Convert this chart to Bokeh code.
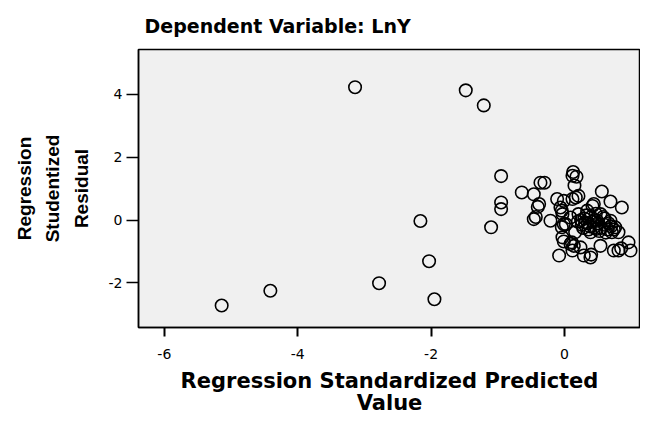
from bokeh.plotting import figure
from bokeh.models import FixedTicker, Range1d
from bokeh.embed import file_html
from bokeh.resources import INLINE

# Outlying observations
out_x = [-5.14, -4.41, -3.14, -2.78, -2.16, -2.03, -1.95, -1.48, -1.21, -1.10, -0.95, -0.95, -0.95]
out_y = [-2.72, -2.25, 4.23, -2.01, -0.03, -1.31, -2.52, 4.13, 3.65, -0.23, 1.40, 0.56, 0.35]

# Main cluster
clu_x = [-0.64, -0.46, -0.36, -0.30, -0.38, -0.40, -0.46, -0.43, -0.11, -0.06, -0.03, -0.21, -0.01,
         0.12, 0.13, 0.18, 0.15, 0.12, 0.21, 0.17, 0.56, 0.69, 0.86, 0.44, 0.42, -0.01, -0.04,
         0.09, 0.21, 0.34, 0.54, 0.69, 0.76, 0.81, 0.71, 0.44, 0.31, 0.49, 0.60, 0.39, 0.16,
         0.02, -0.04, -0.03, -0.01, 0.09, 0.11, 0.14, 0.24, -0.08, 0.12, 0.29, 0.39, 0.40, 0.54,
         0.74, 0.81, 0.85, 0.96, 0.99, 0.30, 0.35, 0.40, 0.45, 0.50, 0.55, 0.60, 0.65, 0.38,
         0.28, 0.25, 0.33, 0.47, 0.52, 0.62, 0.70, 0.58, 0.36, 0.42, 0.26, 0.66, 0.74, 0.48, 0.20]
clu_y = [0.88, 0.82, 1.19, 1.19, 0.51, 0.42, 0.03, 0.10, 0.67, 0.40, 0.19, -0.02, -0.13,
         1.41, 1.53, 1.38, 1.10, 0.67, 0.77, 0.72, 0.91, 0.59, 0.40, 0.51, 0.45, 0.61, 0.30,
         0.08, 0.19, 0.30, 0.19, -0.02, -0.23, -0.39, -0.39, -0.23, -0.08, -0.02, -0.15, -0.39, -0.39,
         -0.13, -0.23, -0.55, -0.68, -0.76, -0.71, -0.82, -0.87, -1.13, -0.97, -1.13, -1.19, -1.10, -0.82,
         -0.97, -0.97, -0.90, -0.71, -0.97, 0.05, -0.10, 0.10, 0.00, -0.10, -0.25, 0.05, -0.30, -0.20,
         -0.25, 0.00, 0.15, 0.20, -0.35, -0.40, -0.20, 0.10, -0.30, -0.05, -0.15, -0.10, -0.30, -0.28, -0.05]

x_vals = out_x + clu_x
y_vals = out_y + clu_y

x_ticks = [-6, -4, -2, 0]
y_ticks = [-2, 0, 2, 4]

title_text = "Dependent Variable: LnY"
x_label = "Regression Standardized Predicted\nValue"
y_label = "Regression\nStudentized\nResidual"

p = figure(width=640, height=418, output_backend="svg", toolbar_location=None,
           x_range=Range1d(-6.387, 1.14), y_range=Range1d(-3.42, 5.43),
           min_border_left=138, min_border_right=0, min_border_top=48, min_border_bottom=91,
           background_fill_color="#F0F0F0", border_fill_color="white")

p.scatter(x_vals, y_vals, size=12.5, marker="circle", fill_color=None,
          line_color="black", line_width=1.6)

p.title.text = title_text
p.title.text_font = "DejaVu Sans"
p.title.text_font_style = "bold"
p.title.text_font_size = "19px"
p.title.text_color = "black"
p.title.align = "left"
p.title.offset = 6
p.title.standoff = 25

p.outline_line_color = "black"
p.outline_line_width = 1.5
p.xgrid.visible = False
p.ygrid.visible = False

for ax in (p.xaxis[0], p.yaxis[0]):
    ax.axis_line_color = "black"
    ax.axis_line_width = 1.5
    ax.major_tick_line_color = "black"
    ax.minor_tick_line_color = None
    ax.major_tick_in = 0
    ax.major_label_text_font = "DejaVu Sans"
    ax.major_label_text_font_size = "14px"
    ax.major_label_text_color = "black"
    ax.axis_label_text_font_style = "bold"
    ax.axis_label_text_color = "black"

p.xaxis.ticker = FixedTicker(ticks=x_ticks)
p.yaxis.ticker = FixedTicker(ticks=y_ticks)
p.xaxis.major_label_overrides = {t: str(t) for t in x_ticks}
p.yaxis.major_label_overrides = {t: str(t) for t in y_ticks}

p.xaxis.major_tick_out = 9
p.xaxis.major_tick_line_width = 2
p.xaxis.major_label_standoff = 12
p.xaxis.axis_label = x_label
p.xaxis.axis_label_text_font = "DejaVu Sans"
p.xaxis.axis_label_text_font_size = "21px"
p.xaxis.axis_label_text_line_height = 0.95
p.xaxis.axis_label_standoff = 7

p.yaxis.major_tick_out = 12
p.yaxis.major_tick_line_width = 1.5
p.yaxis.major_label_standoff = 4
p.yaxis.major_label_orientation = "horizontal"
p.yaxis.axis_label = y_label
p.yaxis.axis_label_text_font = "Liberation Sans"
p.yaxis.axis_label_text_font_size = "19px"
p.yaxis.axis_label_text_line_height = 1.35
p.yaxis.axis_label_standoff = 14

open("out.html", "w").write(file_html(p, INLINE))
